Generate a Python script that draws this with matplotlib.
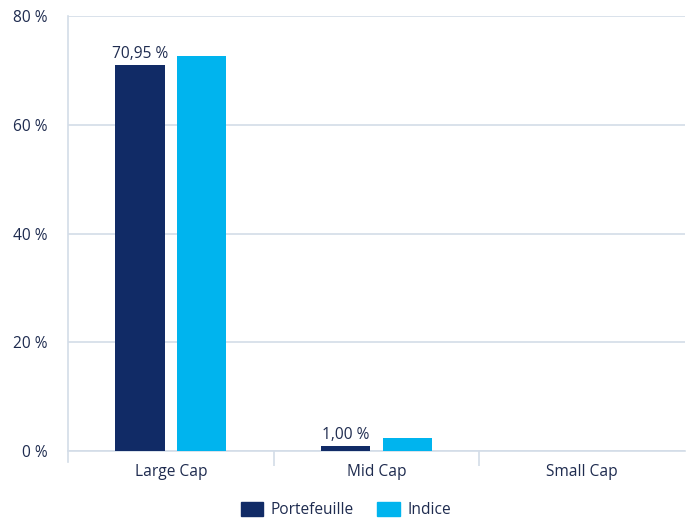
import matplotlib
matplotlib.use("Agg")
import matplotlib.pyplot as plt
import numpy as np
from matplotlib.patches import Patch

categories = ["Large Cap", "Mid Cap", "Small Cap"]
portefeuille = [70.95, 1.00, 0.0]
indice = [72.6, 2.3, 0.0]
yticks = [0, 20, 40, 60, 80]

navy = "#112B66"
light = "#00B4EE"
txt = "#1E2B4F"
grid = "#D3DDE8"

plt.rcParams['font.family'] = ['Open Sans', 'DejaVu Sans']
fs = 11.2

fig = plt.figure(figsize=(6.91, 5.21), dpi=100)
ax = fig.add_axes([68/691, 70/521, 617/691, 435/521])

x = np.arange(len(categories))
w = 0.24
gap = 0.06
ax.bar(x - (w + gap)/2, portefeuille, w, color=navy, zorder=3)
ax.bar(x + (w + gap)/2, indice, w, color=light, zorder=3)

for xi, v in zip(x, portefeuille):
    if v > 0:
        ax.text(xi - (w + gap)/2, v + 0.5, f"{v:.2f} %".replace(".", ","),
                ha="center", va="bottom", color=txt, fontsize=fs)

ax.set_xlim(-0.5, 2.5)
ax.set_ylim(0, 80)
ax.set_yticks(yticks)
ax.set_yticklabels([f"{t} %" for t in yticks], color=txt, fontsize=fs)
ax.set_xticks(x)
ax.set_xticklabels(categories, color=txt, fontsize=fs)
ax.set_xticks([0.5, 1.5], minor=True)
ax.tick_params(axis="x", which="major", length=0, pad=9.5)
ax.tick_params(axis="x", which="minor", length=11, color=grid, width=1.2)
ax.tick_params(axis="y", length=0, pad=15)

ax.yaxis.grid(True, color=grid, linewidth=1.2, zorder=0)
ax.spines["right"].set_visible(False)
ax.spines["top"].set_visible(False)
ax.spines["bottom"].set_color(grid)
ax.spines["bottom"].set_linewidth(1.2)
ax.spines["left"].set_color(grid)
ax.spines["left"].set_linewidth(1.2)
ax.spines["left"].set_bounds(-2.0, 80)
ax.spines["left"].set_zorder(1)

handles = [Patch(color=navy), Patch(color=light)]
fig.legend(handles, ["Portefeuille", "Indice"], loc="center", bbox_to_anchor=(346/691, 1 - 510/521),
           ncol=2, frameon=False, fontsize=fs, labelcolor=txt, handlelength=1.45, handleheight=1.05,
           columnspacing=1.5, handletextpad=0.5)

fig.savefig("out.png", dpi=100)
